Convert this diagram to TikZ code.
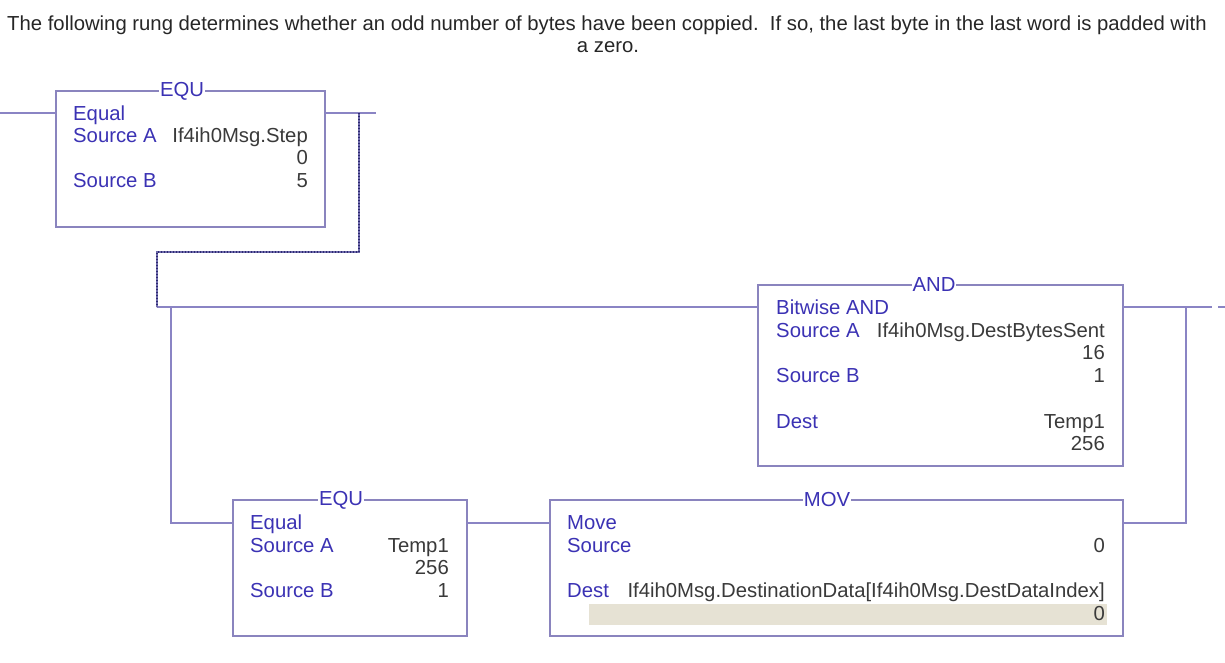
\documentclass[tikz,border=0pt]{standalone}
\usepackage{fontspec}
\setmainfont{Liberation Sans}
\definecolor{wirec}{HTML}{8A84C4}
\definecolor{boxc}{HTML}{8A84BE}
\definecolor{labc}{HTML}{3B32B4}
\definecolor{valc}{HTML}{3A3A3A}
\definecolor{dotc}{HTML}{2C2A70}
\definecolor{hic}{HTML}{E6E2D4}
\tikzset{
  x=1pt,y=-1pt,
  wire/.style={draw=wirec,line width=1.2pt},
  rungbox/.style={draw=boxc,line width=1.4pt,fill=white,rectangle,inner sep=0pt,outer sep=0pt,anchor=north west},
  boxtitle/.style={fill=white,text=labc,inner sep=1pt,font=\fontsize{20.3}{24}\selectfont},
  lab/.style={anchor=base west,inner sep=0pt,text=labc,font=\fontsize{20.3}{24}\selectfont},
  val/.style={anchor=base east,inner sep=0pt,text=valc,font=\fontsize{20.3}{24}\selectfont},
  headline/.style={anchor=base,inner sep=0pt,text=black!85,font=\fontsize{20.3}{24}\selectfont},
  dotwire/.style={draw=dotc,line width=2.2pt,dash pattern=on 1pt off 2pt},
  dotbase/.style={draw=wirec!70!dotc,line width=1.2pt}
}
\begin{document}
\begin{tikzpicture}
\useasboundingbox (0,0) rectangle (1225,663);
\node[headline] (h1) at (607,31) {The following rung determines whether an odd number of bytes have been coppied.\ \ If so, the last byte in the last word is padded with};
\node[headline] (h2) at (608,53) {a zero.};
% boxes
\node[rungbox,minimum width=269pt,minimum height=136pt] (equa) at (56,91) {};
\node[rungbox,minimum width=365pt,minimum height=181pt] (andb) at (758,285) {};
\node[rungbox,minimum width=234pt,minimum height=136pt] (equb) at (233,500) {};
\node[rungbox,minimum width=573pt,minimum height=136pt] (movb) at (550,500) {};
\fill[hic] (589,604) rectangle (1107,625);
% titles
\node[boxtitle] (t1) at (182,91) {EQU};
\node[boxtitle] (t2) at (934,285) {AND};
\node[boxtitle] (t3) at (341,500) {EQU};
\node[boxtitle] (t4) at (827,500) {MOV};
% coordinates
\coordinate (l0) at (0,113);
\coordinate (l1) at (56,113);
\coordinate (r1) at (325,113);
\coordinate (r2) at (376,113);
\coordinate (d1) at (359,113);
\coordinate (d2) at (359,252);
\coordinate (d3) at (157,252);
\coordinate (d4) at (157,307);
\coordinate (a0) at (758,307);
\coordinate (b1) at (171,307);
\coordinate (b2) at (171,523);
\coordinate (b3) at (233,523);
\coordinate (c1) at (467,523);
\coordinate (c2) at (550,523);
\coordinate (e1) at (1123,523);
\coordinate (e2) at (1186,523);
\coordinate (e3) at (1186,307);
\coordinate (f1) at (1123,307);
\coordinate (f2) at (1212,307);
\coordinate (g1) at (1218,307);
\coordinate (g2) at (1225,307);
% wires
\draw[wire] (l0) -- (l1);
\draw[wire] (r1) -- (r2);
\draw[wire] (d4) -- (a0);
\draw[wire] (b1) -- (b2) -- (b3);
\draw[wire] (c1) -- (c2);
\draw[wire] (e1) -- (e2) -- (e3);
\draw[wire] (f1) -- (f2);
\draw[wire] (g1) -- (g2);
\draw[dotbase] (d1) -- (d2) -- (d3) -- (d4);
\draw[dotwire] (d1) -- (d2) -- (d3) -- (d4);
% EQU 1
\node[lab] (a1) at (73,120.5) {Equal};
\node[lab] (a2) at (73,143) {Source A};
\node[val] (a3) at (308,143) {If4ih0Msg.Step};
\node[val] (a4) at (308,165) {0};
\node[lab] (a5) at (73,188) {Source B};
\node[val] (a6) at (308,188) {5};
% AND
\node[lab] (n1) at (776,314) {Bitwise AND};
\node[lab] (n2) at (776,337) {Source A};
\node[val] (n3) at (1105,337) {If4ih0Msg.DestBytesSent};
\node[val] (n4) at (1105,359) {16};
\node[lab] (n5) at (776,382) {Source B};
\node[val] (n6) at (1105,382) {1};
\node[lab] (n7) at (776,428) {Dest};
\node[val] (n8) at (1105,428) {Temp1};
\node[val] (n9) at (1105,450) {256};
% EQU 2
\node[lab] (q1) at (250,529.5) {Equal};
\node[lab] (q2) at (250,552) {Source A};
\node[val] (q3) at (449,552) {Temp1};
\node[val] (q4) at (449,574) {256};
\node[lab] (q5) at (250,597) {Source B};
\node[val] (q6) at (449,597) {1};
% MOV
\node[lab] (m1) at (567,529.5) {Move};
\node[lab] (m2) at (567,552) {Source};
\node[val] (m3) at (1105,552) {0};
\node[lab] (m4) at (567,597) {Dest};
\node[val] (m5) at (1105,597) {If4ih0Msg.DestinationData[If4ih0Msg.DestDataIndex]};
\node[val] (m6) at (1105,620) {0};
\end{tikzpicture}
\end{document}
